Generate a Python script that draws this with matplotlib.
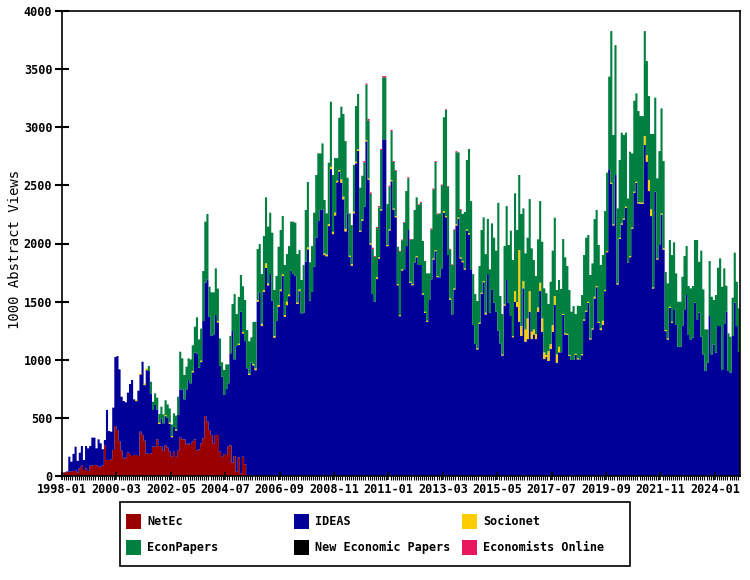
import numpy as np
import matplotlib.pyplot as plt
from matplotlib.patches import Rectangle

plt.rcParams['font.family'] = ['DejaVu Sans Mono']

# monthly abstract views, 1998-01 .. 2024-12
netec = [25, 30, 35, 37, 37, 43, 46, 29, 66, 89, 52, 66, 43, 89, 89, 95, 95, 80, 80, 89,
         261, 138, 138, 143, 224, 430, 396,
         300, 218, 152, 158, 201, 189, 172, 181, 181, 172, 381, 353, 304, 195, 189, 195,
         252, 252, 315, 258, 252, 218, 267, 244, 209, 166, 209, 166, 218, 333, 315, 315,
         272, 281,
         267, 295, 315, 218, 229, 281, 324, 516, 467, 396, 353, 281, 353, 353, 209, 166,
         189, 181, 252, 267, 115, 172, 37, 161, 20, 166, 100] + [0] * 236

ideas = [5, 5, 5, 129, 86, 147, 206, 101, 134, 169, 86, 192, 195, 169, 241, 235, 143,
         235, 201, 141, 49, 430, 249, 238, 364, 593, 636,
         617, 464, 493, 476, 516, 602, 654, 478, 463, 562, 492, 630, 478, 716, 714, 516,
         316, 359, 258, 189, 244, 235, 248, 258, 240, 168, 215, 225, 307, 412, 430, 344,
         473, 545,
         530, 597, 746, 837, 703, 699, 1009, 1147, 1225, 974, 851, 937, 1032, 969, 740,
         688, 508, 567, 545, 788, 1132, 831, 1081, 966, 1393, 1061, 1061, 926, 869, 975, 952,
         910, 1500, 1580, 1290, 1585, 1790, 1640, 1737, 1508, 1190, 1333, 1455, 1590, 1720,
         1370, 1470, 1547, 1766, 1737, 1720, 1480, 1590, 1399, 1405, 1843, 1950, 1508, 1583,
         1800, 2050, 2193,
         2288, 2294, 1900, 1890, 2150, 2640, 2081, 2242, 2526, 2620, 2523, 2380, 2104, 2259,
         1884, 1809, 2260, 2690, 2797, 2099, 2195, 2317, 2879, 2550, 1990, 1565, 1500, 1697,
         1870, 2284, 2896,
         2896, 1977, 2112, 2536, 2292, 2226, 1641, 1375, 1768, 1778, 1978, 2116, 1661, 1641,
         1835, 1882, 1815, 1815, 1561, 1403, 1326, 1514, 1692, 1862, 1934, 1710, 1709, 1786,
         2265, 2226, 1901,
         1516, 1390, 1604, 2155, 2215, 1871, 1839, 1776, 2112, 2077, 1778, 1299, 1135, 1088,
         1309, 1567, 1667, 1390, 1737, 1405, 1605, 1491, 1413, 1250, 1141, 1036, 1466, 1686,
         1491, 1376, 1194,
         1499, 1456, 1327, 1204, 1614, 1155, 1178, 1413, 1178, 1218, 1178, 1413, 1591, 1241,
         1006, 1026, 989, 1092, 1241, 1471, 975, 1064, 1064, 1385, 1218, 1213, 1032, 998,
         998, 1041, 1003,
         1003, 1039, 1337, 1412, 1489, 1174, 1260, 1527, 1624, 1317, 1255, 1302, 1590, 1925,
         2638, 2513, 2155, 2589, 1647, 2040, 2163, 2206, 2307, 1835, 1882, 2126, 2436, 2522,
         2344, 2344, 2341,
         2847, 2704, 2451, 2236, 1613, 2446, 1862, 1987, 2249, 1948, 1246, 1174, 1446, 1317,
         1434, 1299, 1112, 1112, 1290, 1428, 1557, 1213, 1170, 1190, 1491, 1342, 1405, 1198,
         1046, 903, 975,
         1376, 1046, 1132, 1061, 1290, 1290, 917, 1307, 1413, 903, 889, 1204, 1491, 1290, 1069]

socionet = [0] * 35 + [10, 0, 10, 0, 15, 15, 0, 0, 0, 0, 0, 12, 0, 0, 10, 0, 10, 10, 0, 10,
            0, 0, 0, 0, 0, 0, 0,
            12, 0, 0, 0, 12, 0, 0, 0, 0, 0, 0, 0, 12, 0, 0, 0, 0, 0, 0, 0, 0, 0, 12, 0,
            12, 0, 0, 12, 0, 12,
            16, 14, 0, 20, 15, 40, 17, 0, 0, 14, 0, 16, 15, 15, 15, 30, 15, 0, 0, 0, 14, 15,
            0, 0, 0, 17, 0, 0, 0, 0, 0,
            0, 0, 15, 15, 17, 20, 20, 23, 14, 12, 29, 23, 23, 0, 11, 14, 14, 14, 13, 11, 13,
            0, 11, 10, 11, 0, 0, 12, 11, 10, 0,
            0, 10, 10, 10, 10, 10, 10, 10, 10, 0, 0, 0, 10, 10, 0, 10, 0, 0, 10, 10, 10, 0,
            0, 10, 10, 10, 0, 0, 15, 10, 0,
            12, 0, 10, 10, 10, 10, 10, 10, 10, 10, 0, 0, 0, 10, 10, 10, 10, 15, 0, 0, 0, 0,
            0, 0, 0, 10, 10, 0, 0, 0, 10,
            92, 40, 617, 86, 63, 106, 178, 178, 63, 43, 43, 38, 72, 115, 58, 15, 86, 43, 58,
            77, 71, 48, 0, 10, 10, 10, 10, 0, 0, 10, 10,
            0, 10, 10, 10, 10, 10, 10, 15, 10, 10, 15, 34, 10, 10, 0, 10, 10, 0, 10, 10, 10,
            10, 10, 0, 10, 10, 10, 10, 10, 10, 10,
            77, 57, 95, 58, 10, 0, 10, 0, 10, 10, 10, 10, 10, 10] + [0] * 32

econpapers = [0] * 41 + [43, 100, 71, 100, 101, 74, 100, 77, 127, 114, 122, 99, 115, 119,
              157, 324, 267, 210, 195, 186,
              206, 220, 223, 310, 243, 276, 430, 525, 562, 258, 376, 362, 401, 278, 235, 124,
              215, 212, 163, 150, 232, 562, 275, 401, 316, 393, 353, 330, 278, 218, 361,
              401, 438, 415, 427, 464, 567, 488, 528, 585, 396, 387, 501, 511, 501, 430, 409,
              416, 422, 451, 459, 415, 339, 287, 410, 445, 562, 330, 395, 465, 539, 582,
              487, 567, 459, 354, 528, 560, 488, 470, 195, 450, 625, 711, 754, 307, 364, 336,
              401, 478, 476, 370, 375, 382, 476, 496, 427, 387, 384, 424, 430, 510, 533,
              533, 352, 367, 421, 399, 390, 321, 544, 250, 401, 473, 444, 359, 387, 453, 505,
              516, 536, 450, 436, 407, 229, 430, 594, 757, 531, 550, 714, 806, 912, 588,
              421, 425, 502, 619, 559, 407, 405, 485, 596, 726, 587, 438, 430, 407, 487, 539,
              548, 504, 474, 373, 568, 559, 525, 1100, 407, 347, 502, 636, 496, 734, 654,
              841, 620, 645, 964, 625, 654, 694, 791, 717, 597, 499, 585, 702, 659, 550, 531,
              404, 536, 639, 674, 554, 574, 544, 643, 653, 583, 558, 415, 464, 342, 452,
              459, 508, 554, 628, 574, 545, 559, 668, 654, 660, 545, 565, 679, 674, 797, 1304,
              768, 1118, 645, 668, 780, 717, 636, 553, 898, 639, 782, 759, 785, 742, 745,
              903, 808, 722, 648, 1319, 808, 688, 808, 903, 751, 499, 473, 574, 574, 576, 444,
              387, 387, 424, 464, 421, 421, 444, 444, 539, 688, 438, 740, 559, 358, 286,
              473, 496, 382, 496, 502, 582, 711, 479, 224, 324, 309, 330, 430, 381, 373]

nep = [0] * 324

econ_online = [0] * 144 + [10, 10, 15, 12, 12, 8, 9, 11, 9, 11, 11, 0, 10, 10, 8, 6, 0, 8,
               6, 6, 0, 10, 8, 0, 0, 0, 6, 8, 0, 0, 0, 0, 8, 8, 8, 8, 0, 8, 0, 6, 6, 6, 6,
               6, 10, 0, 8] + [0] * 133

names = ['NetEc', 'IDEAS', 'Socionet', 'EconPapers', 'New Economic Papers', 'Economists Online']
colors = ['#990000', '#000099', '#ffcc00', '#008040', '#000000', '#e8175d']
series = [netec, ideas, socionet, econpapers, nep, econ_online]

# tick labels every 26 months from 1998-01
tick_pos = list(range(0, 324, 26))
tick_labels = ['%d-%02d' % (1998 + p // 12, p % 12 + 1) for p in tick_pos]

n = len(ideas)
edges = np.arange(n + 1)

fig = plt.figure(figsize=(7.5, 5.8), dpi=100)
ax = fig.add_axes([62 / 750, 104 / 580, 678 / 750, 465 / 580])

# stacked monthly bars, one filled step polygon per source (no seams between months)
bottom = np.zeros(n)
for vals, c in zip(series, colors):
    top = bottom + np.array(vals, dtype=float)
    ax.stairs(top, edges, baseline=bottom, fill=True, color=c, lw=0)
    bottom = top

ax.set_xlim(0, n)
ax.set_ylim(0, 4000)
ax.set_yticks(range(0, 4001, 500))
ax.set_xticks(tick_pos, tick_labels)
ax.set_xticks(np.arange(n), minor=True)
ax.tick_params(axis='y', direction='inout', length=10, width=1.5, labelsize=8.5, pad=2)
ax.tick_params(axis='x', which='major', direction='inout', length=6, width=1.2,
               labelsize=8.5, pad=2)
ax.tick_params(axis='x', which='minor', direction='out', length=3, width=0.8)
for lab in ax.get_xticklabels() + ax.get_yticklabels():
    lab.set_fontweight('bold')
for s in ax.spines.values():
    s.set_linewidth(1.2)
    s.set_zorder(5)
ax.set_ylabel('1000 Abstract Views', fontsize=10)
ax.yaxis.set_label_coords(-0.059, 0.488)

# legend box
fig.patches.append(Rectangle((120 / 750, 1 - 566 / 580), 510 / 750, 64 / 580,
                             transform=fig.transFigure, fill=False, lw=1.2, ec='black'))
for k, (name, c) in enumerate(zip(names, colors)):
    col, row = k % 3, k // 3
    x0 = 126 + col * 168
    y0 = 514 + row * 26
    fig.patches.append(Rectangle((x0 / 750, 1 - (y0 + 15) / 580), 15 / 750, 15 / 580,
                                 transform=fig.transFigure, color=c, lw=0))
    fig.text((x0 + 21) / 750, 1 - (y0 + 7.5) / 580, name, fontsize=8.5,
             va='center', ha='left', fontweight='bold')

fig.savefig('out.png', dpi=100)
